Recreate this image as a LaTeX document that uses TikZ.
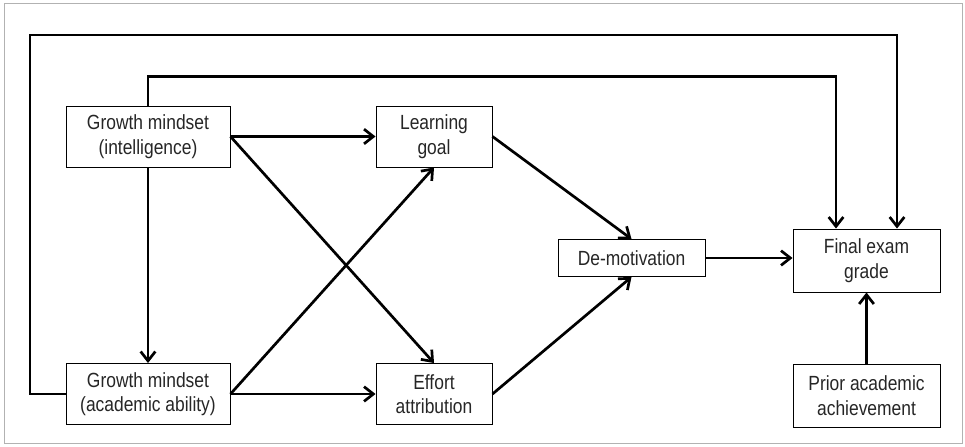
\documentclass[tikz,border=0pt]{standalone}
\usepackage{fontspec}
\setmainfont{Liberation Sans}[FakeStretch=0.85]
\usetikzlibrary{arrows.meta,calc}

\begin{document}
\begin{tikzpicture}[x=0.03cm, y=-0.03cm,
    every node/.style={font=\fontsize{17.5}{21}\selectfont, text=black!85},
    box/.style={draw, line width=0.8pt, align=center, inner sep=0pt},
    link/.style={line width=2.3pt, -{Straight Barb[length=2.8mm, width=4.4mm, line width=2.3pt]}}]
        \useasboundingbox (0,0) rectangle (965,446);
        \draw[gray!60, line width=0.8pt] (4,3) rectangle (962,443);

        % nodes
        \node[box, minimum width=4.92cm, minimum height=1.83cm] (GMI) at (148,136.5) {Growth mindset\\(intelligence)};
        \node[box, minimum width=4.92cm, minimum height=1.83cm] (GMA) at (148,394) {Growth mindset\\(academic ability)};
        \node[box, minimum width=3.48cm, minimum height=1.83cm] (LG) at (434,136.5) {Learning\\goal};
        \node[box, minimum width=3.48cm, minimum height=1.83cm] (EA) at (434,394) {Effort\\attribution};
        \node[box, minimum width=4.41cm, minimum height=1.11cm] (DM) at (631.5,258) {De-motivation};
        \node[box, minimum width=4.41cm, minimum height=1.89cm] (FEG) at (866.5,260.5) {Final exam\\grade};
        \node[box, minimum width=4.41cm, minimum height=1.89cm] (PAA) at (866.5,395.5) {Prior academic\\achievement};

        % paths
        \draw[link] (GMI) -- (GMA);
        \draw[link] (GMI.east) -- (LG.west);
        \draw[link] (GMI.east) -- (EA.north);
        \draw[link] (GMA.east) -- (LG.south);
        \draw[link] (GMA.east) -- (EA.west);
        \draw[link] (LG.east) -- (DM.north);
        \draw[link] (EA.east) -- (DM.south);
        \draw[link] (DM.east) -- (DM.east -| FEG.west);
        \draw[link] (PAA) -- (FEG);

        % long loops into the grade
        \draw[link] (GMI.north) -- ++(0,-29) -| ($(FEG.north)+(-30.5,0)$);
        \draw[link] (GMA.west) -| (30,35) -| ($(FEG.north)+(30.5,0)$);
    \end{tikzpicture}
\end{document}
